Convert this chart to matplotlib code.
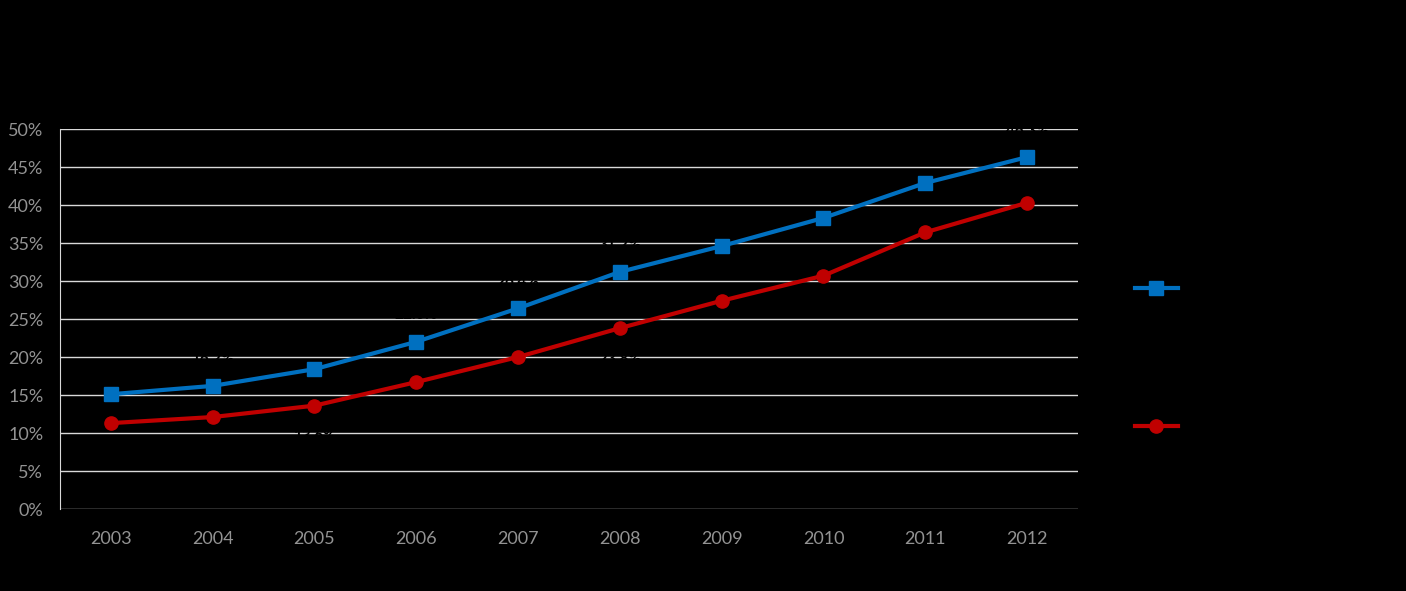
import numpy as np
import matplotlib
matplotlib.use('Agg')
import matplotlib.pyplot as plt
from matplotlib.ticker import PercentFormatter

years = ['2003', '2004', '2005', '2006', '2007', '2008', '2009', '2010', '2011', '2012']
series_a = [15.1, 16.2, 18.4, 22.0, 26.4, 31.2, 34.6, 38.3, 42.9, 46.3]
series_b = [11.3, 12.1, 13.6, 16.7, 20.0, 23.8, 27.4, 30.7, 36.4, 40.3]
series_names = ['Series 1', 'Series 2']
y_ticks = [0, 5, 10, 15, 20, 25, 30, 35, 40, 45, 50]

plt.rcParams['font.family'] = ['Lato', 'DejaVu Sans']

fig = plt.figure(figsize=(14.06, 5.91), dpi=100, facecolor='black')
ax = fig.add_axes([60 / 1406, (591 - 509) / 591, (1078 - 60) / 1406, 380 / 591])
ax.set_facecolor('black')

x = np.arange(len(years))
ax.plot(x, series_a, color='#0070C0', lw=3, marker='s', ms=9.5,
        label=series_names[0], zorder=3)
ax.plot(x, series_b, color='#C00000', lw=3, marker='o', ms=9.5,
        label=series_names[1], zorder=3)

# data labels are black, so they only show where they cut the gridlines
for i in range(len(years)):
    ax.annotate(f'{series_a[i]:.1f}%', (x[i], series_a[i]), xytext=(0, 19),
                textcoords='offset points', ha='center', va='center',
                color='black', fontsize=11, fontweight='bold', zorder=2)
    ax.annotate(f'{series_b[i]:.1f}%', (x[i], series_b[i]), xytext=(0, -22),
                textcoords='offset points', ha='center', va='center',
                color='black', fontsize=11, fontweight='bold', zorder=2)

ax.set_xlim(-0.5, len(years) - 0.5)
ax.set_ylim(0, 50)
ax.set_yticks(y_ticks)
ax.yaxis.set_major_formatter(PercentFormatter(decimals=0))
ax.set_xticks(x)
ax.set_xticklabels(years)
ax.grid(axis='y', color='#d9d9d9', lw=1, zorder=1)
ax.set_axisbelow(True)
for side in ['top', 'right', 'bottom']:
    ax.spines[side].set_visible(False)
ax.spines['left'].set_color('#d9d9d9')
ax.tick_params(axis='both', length=0, colors='#939393', labelsize=13)
ax.tick_params(axis='x', pad=16)
ax.tick_params(axis='y', pad=12)

leg = fig.legend(loc='upper left', bbox_to_anchor=(1122 / 1406, 1 - 270 / 591),
                 frameon=False, fontsize=10, labelspacing=9.1, handlelength=3.1,
                 labelcolor='black')

fig.savefig('out.png', dpi=100, facecolor='black')
